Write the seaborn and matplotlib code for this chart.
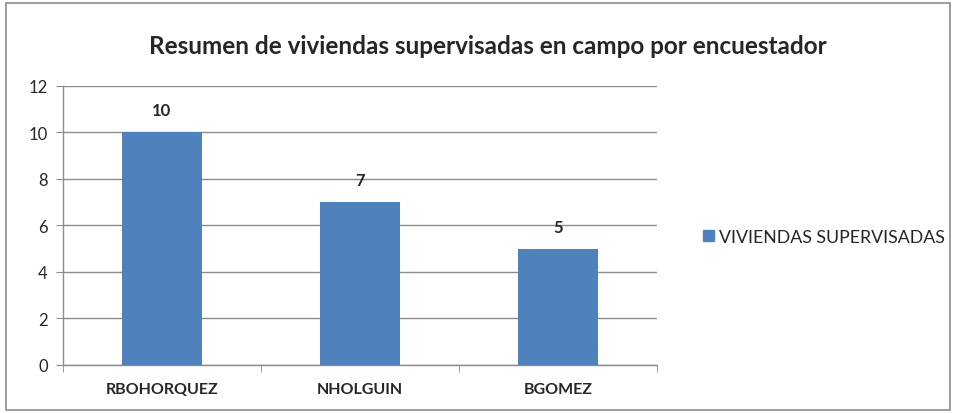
import pandas as pd
import numpy as np
import matplotlib.pyplot as plt
import seaborn as sns
from matplotlib.patches import Rectangle

# datos del grafico
encuestadores = ["RBOHORQUEZ", "NHOLGUIN", "BGOMEZ"]
viviendas = [10, 7, 5]
serie = "VIVIENDAS SUPERVISADAS"
y_ticks = [0, 2, 4, 6, 8, 10, 12]

df = pd.DataFrame({"encuestador": encuestadores, "viviendas": viviendas})

sns.set_style("white")
plt.rcParams['font.family'] = ['Lato', 'DejaVu Sans']

fig = plt.figure(figsize=(9.57, 4.14), dpi=100)
ax = fig.add_axes([0.0658, 0.116, 0.6207, 0.674])

color = "#4F81BD"
sns.barplot(data=df, x="encuestador", y="viviendas", color=color,
            width=0.4, saturation=1, ax=ax, zorder=3, linewidth=0)

ax.set_ylim(0, 12)
ax.set_xlim(-0.5, 2.5)
ax.set_yticks(y_ticks)
ax.set_yticklabels([str(t) for t in y_ticks], fontsize=12)
ax.set_xlabel("")
ax.set_ylabel("")
ax.set_xticklabels(encuestadores, fontsize=11.5, fontweight="bold")

# rejilla y ejes
grid_c = "#8C8C8C"
ax.yaxis.grid(True, color=grid_c, linewidth=1, zorder=0)
for s in ["top", "right"]:
    ax.spines[s].set_visible(False)
for s in ["left", "bottom"]:
    ax.spines[s].set_color(grid_c)
    ax.spines[s].set_linewidth(1)
ax.tick_params(axis="y", which="major", left=True, length=5, color=grid_c, pad=6)
ax.tick_params(axis="x", which="major", length=0, pad=12)
ax.set_xticks([-0.5, 0.5, 1.5, 2.5], minor=True)
ax.tick_params(axis="x", which="minor", bottom=True, length=5, color=grid_c)

# etiquetas de valor
for i, v in enumerate(viviendas):
    ax.text(i, v + 0.6, str(v), ha="center", va="bottom",
            fontsize=12, fontweight="bold")

ax.set_title("Resumen de viviendas supervisadas en campo por encuestador",
             fontsize=17.5, fontweight="bold", pad=24, x=0.716)

handles = [Rectangle((0, 0), 1, 1, color=color)]
fig.legend(handles, [serie], loc="center left", bbox_to_anchor=(0.718, 0.425),
           frameon=False, fontsize=12.8, handlelength=0.6, handleheight=0.6,
           handletextpad=0.3)

# borde exterior
fig.patches.append(Rectangle((0.006, 0.008), 0.987, 0.982, transform=fig.transFigure,
                             fill=False, edgecolor="#8C8C8C", linewidth=1.2))

fig.savefig("out.png", dpi=100)
